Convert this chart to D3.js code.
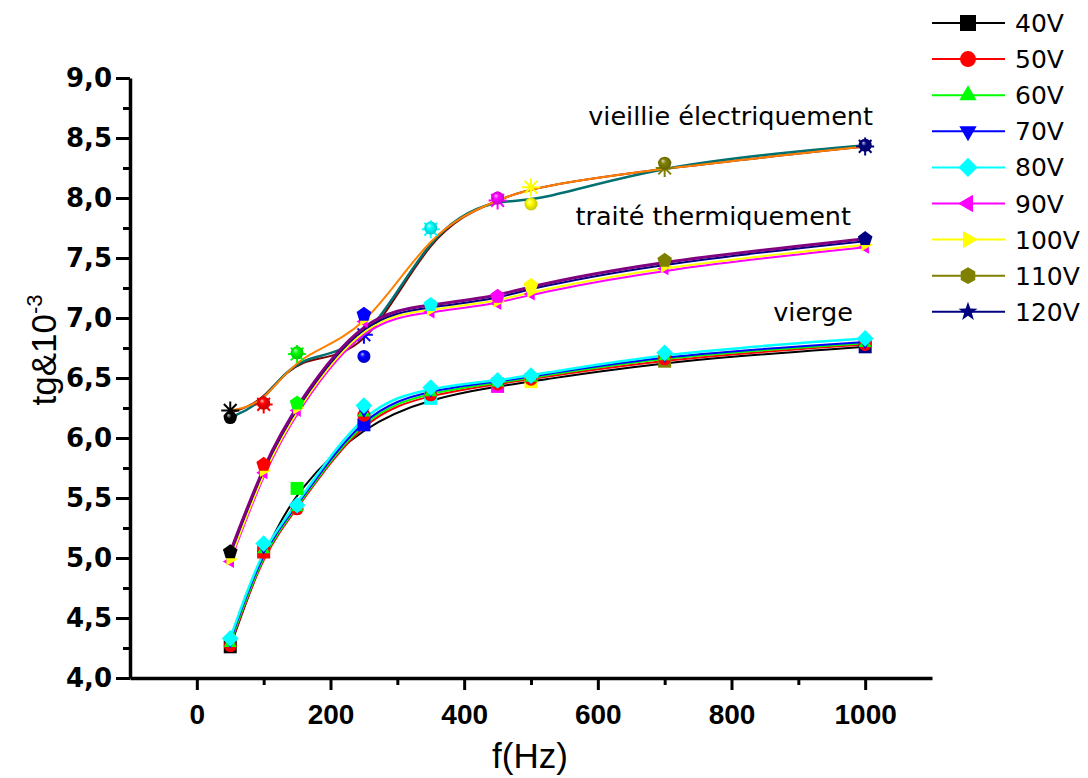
<!DOCTYPE html>
<html>
    <head>
        <meta charset="utf-8">
        <title></title>
        <script src="https://d3js.org/d3.v7.min.js"></script>
        <style>
            body { margin: 0; background: #fff; }
        </style>
    </head>

    <body>
        <div id="my_dataviz"></div>
    </body>

    <script>
        // frequencies (x) and legend
        var freqs = [50, 100, 150, 250, 350, 450, 500, 700, 1000]
        var legendLabels = ["40V", "50V", "60V", "70V", "80V", "90V", "100V", "110V", "120V"]
        var legendColors = ["#000000", "#ff0000", "#00ff00", "#0000ff", "#00ffff", "#ff00ff", "#ffff00", "#808000", "#000080"]
        var legendShapes = ["square", "circle", "up", "down", "diamond", "left", "right", "hexagon", "star"]
        var xTicks = [0, 200, 400, 600, 800, 1000]
        var yTicks = [4, 4.5, 5, 5.5, 6, 6.5, 7, 7.5, 8, 8.5, 9]

        // vierge
        var vierge40 = [4.26, 5.05, 5.58, 6.11, 6.33, 6.43, 6.47, 6.64, 6.76]
        var vierge50 = [4.27, 5.05, 5.41, 6.19, 6.36, 6.45, 6.49, 6.66, 6.78]
        var vierge60 = [4.29, 5.07, 5.42, 6.21, 6.38, 6.46, 6.50, 6.68, 6.79]
        var vierge70 = [4.31, 5.09, 5.43, 6.23, 6.40, 6.47, 6.51, 6.69, 6.80]
        var vierge80 = [4.33, 5.12, 5.44, 6.27, 6.42, 6.48, 6.52, 6.71, 6.83]

        // traité thermiquement
        var traitePenta = [5.05, 5.78, 6.29, 7.03, 7.11, 7.18, 7.27, 7.48, 7.66]
        var traiteNavy  = [5.03, 5.76, 6.27, 7.01, 7.09, 7.16, 7.25, 7.46, 7.64]
        var traite100   = [4.99, 5.73, 6.25, 6.99, 7.07, 7.14, 7.22, 7.43, 7.61]
        var traite90    = [4.97, 5.71, 6.23, 6.97, 7.05, 7.12, 7.20, 7.41, 7.59]

        // vieillie électriquement
        var vieillieSphere = [6.17, 6.29, 6.71, 6.68, 7.75, 8.00, 7.95, 8.29, 8.44]
        var vieillieStar   = [6.23, 6.28, 6.70, 6.86, 7.74, 7.98, 8.09, 8.25, 8.43]
        var vieillieBrown  = [6.21, 6.30, 6.70, 6.64, 7.74, 7.98, 8.09, 8.25, 8.43]

        var W = 1088, H = 778

        var svg = d3.select("#my_dataviz")
        .append("svg")
        .attr("width", W)
        .attr("height", H)

        var x = d3.scaleLinear().domain([-100, 1100]).range([130, 932])
        var y = d3.scaleLinear().domain([4, 9]).range([678, 78])

        var narrow = "'Liberation Sans Narrow', 'Arial Narrow', 'Liberation Sans', Arial, sans-serif"
        var wide = "'DejaVu Sans', 'Liberation Sans', Arial, sans-serif"

        // shapes
        function poly(r, n, start, inner) {
            var pts = []
            var step = 360 / n
            for (var k = 0; k < n; k++) {
                var a = (start + k * step) * Math.PI / 180
                pts.push([r * Math.cos(a), r * Math.sin(a)])
                if (inner) {
                    var b = (start + k * step + step / 2) * Math.PI / 180
                    pts.push([inner * Math.cos(b), inner * Math.sin(b)])
                }
            }
            return "M" + pts.map(function(p) { return p[0].toFixed(2) + "," + p[1].toFixed(2) }).join("L") + "Z"
        }
        function shapePath(type, s) {
            var r = s / 2
            switch (type) {
                case "square": return "M" + (-r) + "," + (-r) + "h" + s + "v" + s + "h" + (-s) + "Z"
                case "circle": return d3.symbol(d3.symbolCircle, Math.PI * r * r)()
                case "up": return poly(r * 1.25, 3, -90)
                case "down": return poly(r * 1.25, 3, 90)
                case "left": return poly(r * 1.25, 3, 180)
                case "right": return poly(r * 1.25, 3, 0)
                case "diamond": return poly(r * 1.2, 4, -90)
                case "hexagon": return poly(r * 1.05, 6, -90)
                case "pentagon": return poly(r * 1.1, 5, -90)
                case "star": return poly(r * 1.25, 5, -90, r * 0.5)
                case "asterisk":
                    var p = ""
                    for (var k = 0; k < 4; k++) {
                        var a = k * Math.PI / 4
                        var dx = r * Math.cos(a), dy = r * Math.sin(a)
                        p += "M" + (-dx).toFixed(2) + "," + (-dy).toFixed(2) + "L" + dx.toFixed(2) + "," + dy.toFixed(2)
                    }
                    return p
            }
        }

        // sphere gradients
        var defs = svg.append("defs")
        legendColors.forEach(function(c, i) {
            var g = defs.append("radialGradient")
            .attr("id", "sph" + i)
            .attr("cx", "50%").attr("cy", "50%").attr("r", "55%")
            .attr("fx", "35%").attr("fy", "30%")
            g.append("stop").attr("offset", "0%").attr("stop-color", d3.interpolateRgb(c, "#ffffff")(0.75))
            g.append("stop").attr("offset", "35%").attr("stop-color", c)
            g.append("stop").attr("offset", "100%").attr("stop-color", d3.interpolateRgb(c, "#000000")(0.25))
        })

        // axes
        var xAxis = svg.append("g")
        .attr("transform", "translate(0," + y(4) + ")")
        .call(d3.axisBottom(x).tickValues(xTicks).tickSize(12).tickSizeOuter(0).tickPadding(14).tickFormat(d3.format("d")))
        xAxis.selectAll("text").style("font-family", narrow).style("font-size", "28px").style("font-weight", "bold").attr("fill", "#000")

        svg.append("g")
        .attr("transform", "translate(0," + y(4) + ")")
        .call(d3.axisBottom(x).tickValues([100, 300, 500, 700, 900]).tickSize(7).tickSizeOuter(0).tickFormat(""))
        .select(".domain").remove()

        var yAxis = svg.append("g")
        .attr("transform", "translate(" + x(-100) + ",0)")
        .call(d3.axisLeft(y).tickValues(yTicks).tickSize(14).tickSizeOuter(0).tickPadding(4)
            .tickFormat(function(d) { return d.toFixed(1).replace(".", ",") }))
        yAxis.selectAll("text").style("font-family", wide).style("font-size", "26px").style("font-weight", "bold").attr("fill", "#000")

        svg.append("g")
        .attr("transform", "translate(" + x(-100) + ",0)")
        .call(d3.axisLeft(y).tickValues(d3.range(4.25, 9, 0.5)).tickSize(7).tickSizeOuter(0).tickFormat(""))
        .select(".domain").remove()

        svg.selectAll(".domain").attr("stroke-width", 3.5).attr("stroke", "#000")
        svg.selectAll(".tick line").attr("stroke-width", 3).attr("stroke", "#000")

        // axis labels
        svg.append("text")
        .attr("x", 530)
        .attr("y", 768)
        .attr("text-anchor", "middle")
        .style("font-family", narrow)
        .style("font-size", "35px")
        .text("f(Hz)")

        var yl = svg.append("text")
        .attr("transform", "translate(56,350) rotate(-90)")
        .attr("text-anchor", "middle")
        .style("font-family", narrow)
        .style("font-size", "35px")
        yl.append("tspan").text("tg&10")
        yl.append("tspan").attr("dy", -14).style("font-size", "22px").text("-3")

        // line generator
        var line = d3.line()
        .x(function(d, i) { return x(freqs[i]) })
        .y(function(d) { return y(d) })
        .curve(d3.curveBasis)

        function drawLine(data, color, w) {
            svg.append("path")
            .datum(data)
            .attr("fill", "none")
            .attr("stroke", color)
            .attr("stroke-width", w || 2)
            .attr("d", line)
        }

        function drawMarks(data, type, size, colorFn, stroke) {
            svg.append("g").selectAll("path")
            .data(data)
            .enter()
            .append("path")
            .attr("transform", function(d, i) { return "translate(" + x(freqs[i]) + "," + y(d) + ")" })
            .attr("d", shapePath(type, size))
            .attr("fill", stroke ? "none" : function(d, i) { return colorFn(i) })
            .attr("stroke", stroke ? function(d, i) { return colorFn(i) } : "none")
            .attr("stroke-width", stroke ? 2 : 0)
        }
        var byFreq = function(i) { return legendColors[i] }
        var fixed = function(c) { return function() { return c } }

        // vieillie électriquement
        drawLine(vieillieBrown, "#800000", 2)
        drawLine(vieillieSphere, "#007070", 2.5)
        drawLine(vieillieStar, "#ff8000", 2)
        drawMarks(vieillieStar, "asterisk", 18, byFreq, true)
        svg.append("g").selectAll("circle")
        .data(vieillieSphere)
        .enter()
        .append("circle")
        .attr("cx", function(d, i) { return x(freqs[i]) })
        .attr("cy", function(d) { return y(d) })
        .attr("r", 6.5)
        .attr("fill", function(d, i) { return "url(#sph" + i + ")" })

        // traité thermiquement
        drawLine(traite90, "#ff00ff", 2)
        drawLine(traite100, "#ffff00", 2)
        drawLine(traiteNavy, "#000080", 2)
        drawLine(traitePenta, "#800080", 3)
        drawMarks(traite90, "left", 12, fixed("#ff00ff"))
        drawMarks(traite100, "right", 12, fixed("#ffff00"))
        drawMarks(traitePenta, "pentagon", 14, byFreq)

        // vierge
        drawLine(vierge40, "#000000", 2)
        drawLine(vierge50, "#ff0000", 2)
        drawLine(vierge60, "#00ff00", 2)
        drawLine(vierge70, "#0000ff", 2)
        drawLine(vierge80, "#00ffff", 2.5)
        drawMarks(vierge40, "square", 13, byFreq)
        drawMarks(vierge50, "circle", 13, fixed("#ff0000"))
        drawMarks(vierge60, "up", 12, fixed("#00ff00"))
        drawMarks(vierge70, "down", 12, fixed("#0000ff"))
        drawMarks(vierge80, "diamond", 14, fixed("#00ffff"))

        // annotations
        var notes = [["vieillie électriquement", 873, 125], ["traité thermiquement", 851, 225], ["vierge", 853, 321]]
        svg.selectAll(".note")
        .data(notes)
        .enter()
        .append("text")
        .attr("x", function(d) { return d[1] })
        .attr("y", function(d) { return d[2] })
        .attr("text-anchor", "end")
        .style("font-family", wide)
        .style("font-size", "25.5px")
        .text(function(d) { return d[0] })

        // legend
        var legend = svg.append("g")
        .selectAll("g")
        .data(legendLabels)
        .enter()
        .append("g")
        .attr("transform", function(d, i) { return "translate(932," + (23 + i * 36.1) + ")" })

        legend.append("line")
        .attr("x1", 0).attr("x2", 73)
        .attr("stroke", function(d, i) { return legendColors[i] })
        .attr("stroke-width", 2)

        legend.append("path")
        .attr("transform", "translate(36,0)")
        .attr("d", function(d, i) { return shapePath(legendShapes[i], 16) })
        .attr("fill", function(d, i) { return legendColors[i] })

        legend.append("text")
        .attr("x", 83)
        .attr("dy", "0.36em")
        .style("font-family", wide)
        .style("font-size", "25px")
        .text(function(d) { return d })
    </script>
</html>
